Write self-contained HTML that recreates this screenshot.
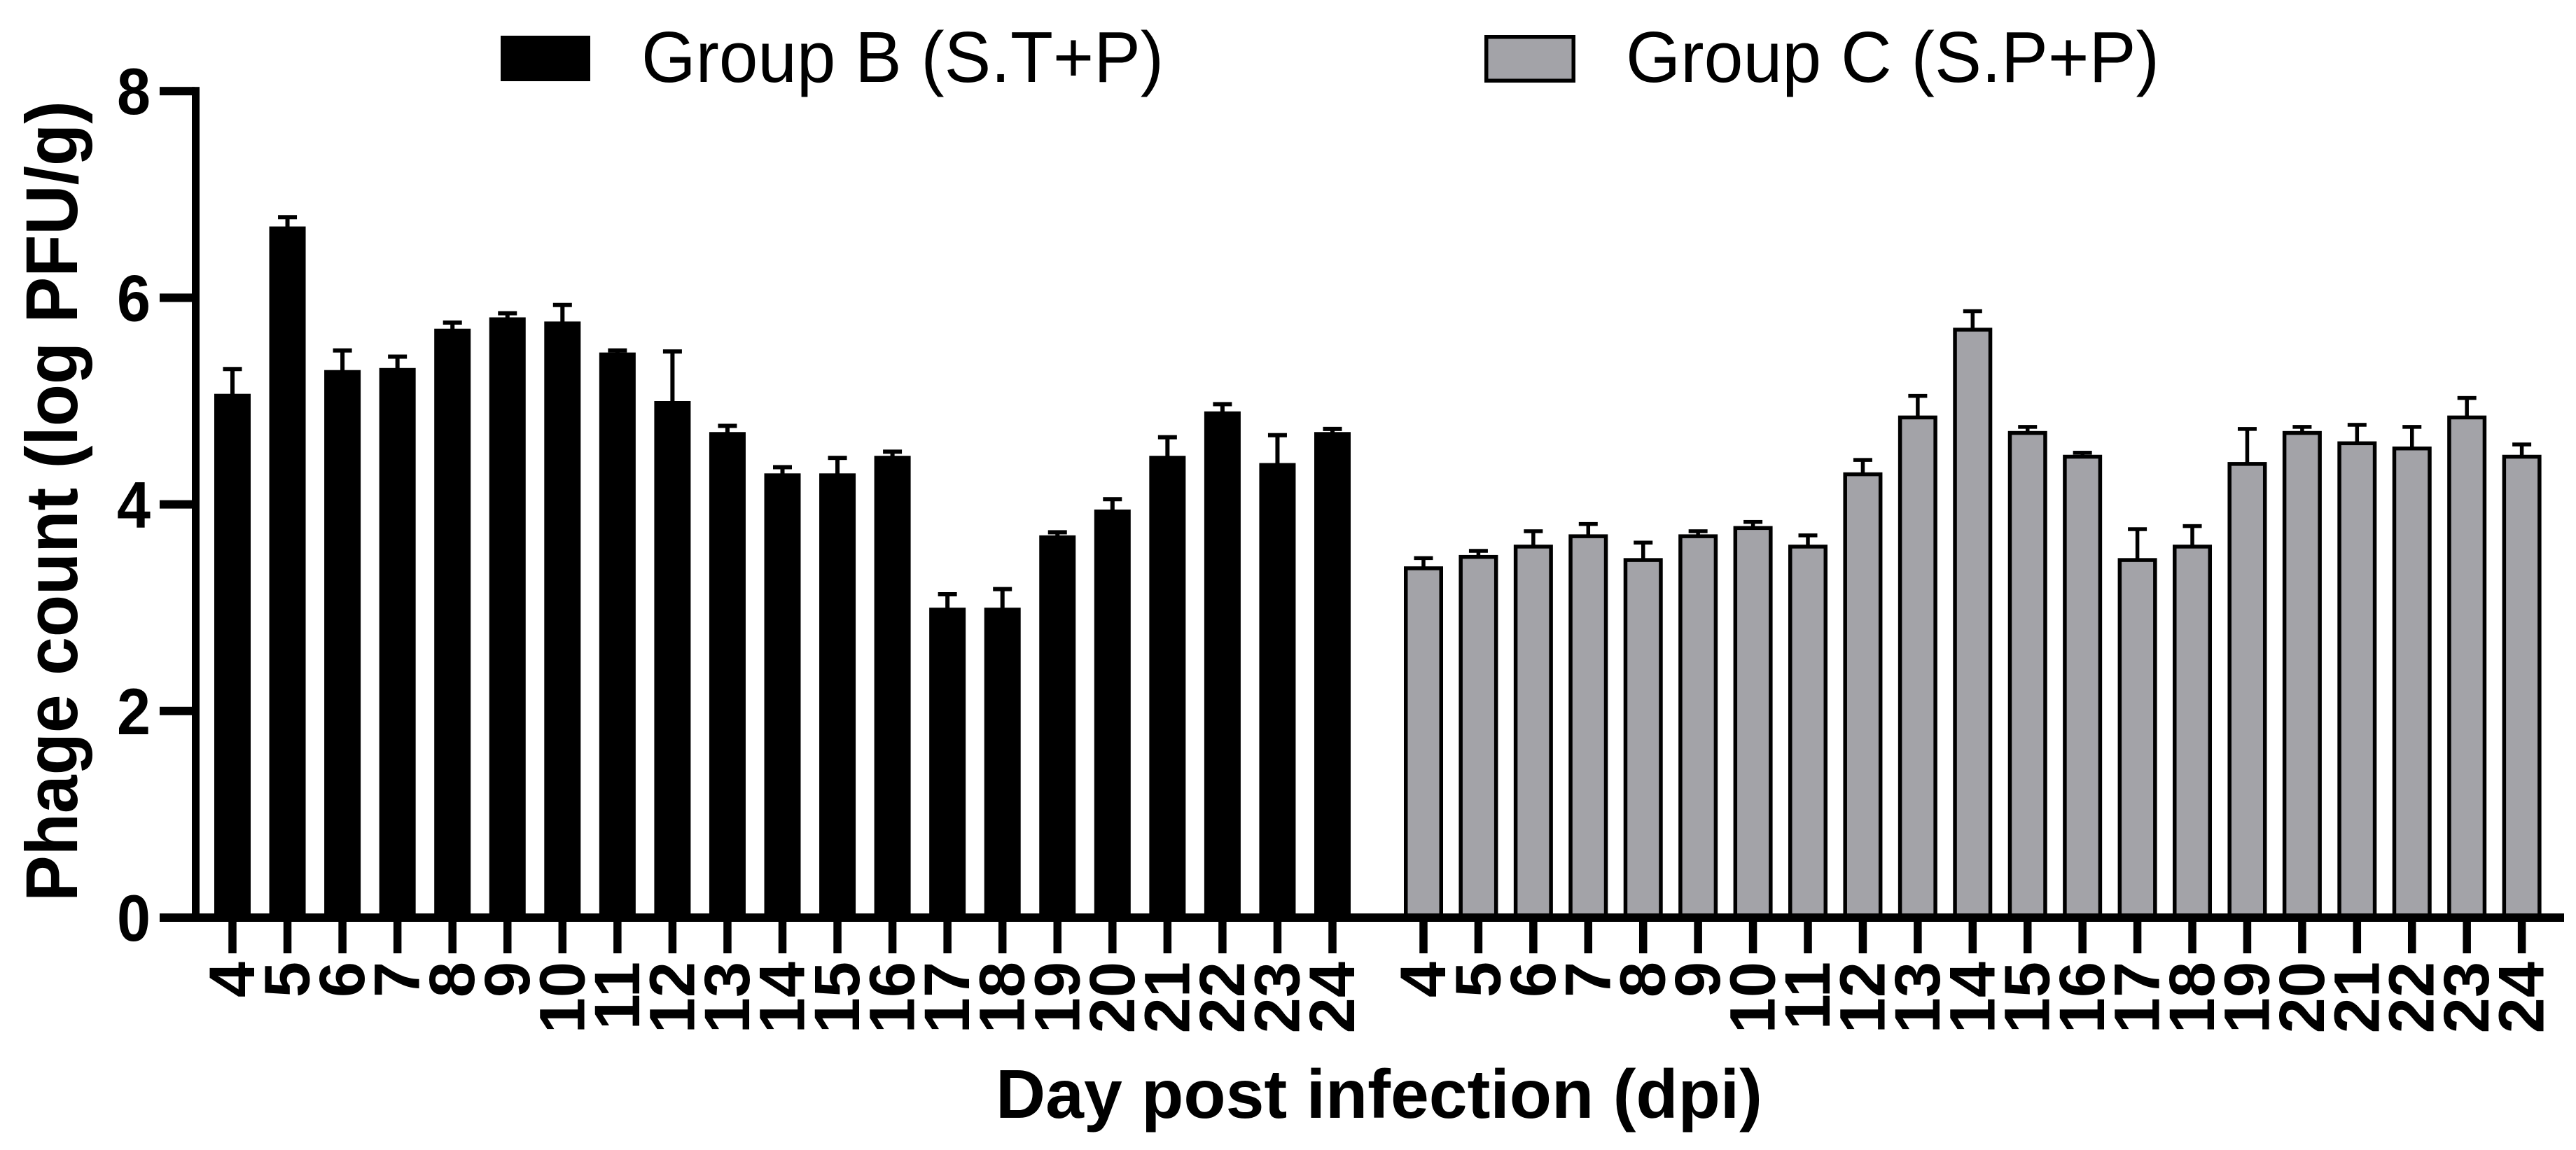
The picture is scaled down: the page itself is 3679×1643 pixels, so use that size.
<!DOCTYPE html>
<html lang="en">
<head>
<meta charset="utf-8">
<title>Phage count by day post infection</title>
<style>
html,body{margin:0;padding:0;background:#fff;width:3679px;height:1643px;overflow:hidden}
svg{display:block}
text{font-family:"Liberation Sans",Arial,sans-serif;fill:#000}
.b{font-weight:bold}
</style>
</head>
<body>
<svg id="chart" xmlns="http://www.w3.org/2000/svg" width="3679" height="1643" viewBox="0 0 3679 1643">
  <rect x="0" y="0" width="3679" height="1643" fill="#fff"/>
  <g id="bars"></g>
  <g id="axes"></g>
  <text class="b" transform="translate(110,1288) rotate(-90)" font-size="105" textLength="1144" lengthAdjust="spacingAndGlyphs">Phage count (log PFU/g)</text>
  <text class="b" x="1422" y="1597" font-size="98" textLength="1095" lengthAdjust="spacingAndGlyphs">Day post infection (dpi)</text>
  <g>
    <g>
      <rect x="715" y="51" width="128" height="65" fill="#000"/>
      <text x="916" y="117" font-size="103" textLength="746" lengthAdjust="spacingAndGlyphs">Group B (S.T+P)</text>
    </g>
    <g>
      <rect x="2122.75" y="52.75" width="124.5" height="62.5" fill="#a3a3a8" stroke="#000" stroke-width="5.5"/>
      <text x="2322" y="117" font-size="103" textLength="762" lengthAdjust="spacingAndGlyphs">Group C (S.P+P)</text>
    </g>
  </g>
</svg>
<script>
const days = ["4","5","6","7","8","9","10","11","12","13","14","15","16","17","18","19","20","21","22","23","24"];
const yTicks = [0,2,4,6,8];
const groupBMeans = [5.07,6.69,5.30,5.32,5.70,5.81,5.77,5.47,5.00,4.70,4.30,4.30,4.47,3.00,3.00,3.70,3.95,4.47,4.90,4.40,4.70];
const groupBUpper = [5.31,6.78,5.49,5.43,5.76,5.85,5.93,5.49,5.48,4.76,4.36,4.45,4.51,3.13,3.18,3.73,4.05,4.65,4.97,4.67,4.73];
const groupCMeans = [3.40,3.51,3.61,3.71,3.48,3.71,3.79,3.61,4.31,4.86,5.71,4.71,4.48,3.48,3.61,4.41,4.71,4.61,4.56,4.86,4.48];
const groupCUpper = [3.48,3.55,3.74,3.81,3.63,3.74,3.83,3.70,4.43,5.05,5.87,4.75,4.50,3.76,3.79,4.73,4.75,4.77,4.75,5.03,4.58];

const NS = "http://www.w3.org/2000/svg";
const barsLayer = document.getElementById("bars");
const axesLayer = document.getElementById("axes");
const Y0 = 1311, UNIT = 147.6;
function yScale(v){ return Y0 - v * UNIT; }
function xScaleB(i){ return 332 + i * 78.55; }
function xScaleC(i){ return 2033 + i * 78.43; }
function mk(tag, attrs, parent){
  const el = document.createElementNS(NS, tag);
  for (const k in attrs) el.setAttribute(k, attrs[k]);
  parent.appendChild(el);
  return el;
}

function drawGroup(means, upper, xScale, key, fill, barW, sw){
  means.forEach(function(v, i){
    const cx = xScale(i);
    const top = yScale(v);
    const capY = yScale(upper[i]);
    const stem = mk("rect", {x: cx - sw / 2, y: capY, width: sw, height: top - capY + 1, fill: "#000"}, barsLayer);
    
    
    const cap = mk("rect", {x: cx - 13.5, y: capY - sw / 2, width: 27, height: sw, fill: "#000"}, barsLayer);
    
    
    let bar;
    if (fill === "#000") {
      bar = mk("rect", {x: cx - barW / 2, y: top, width: barW, height: Y0 - top, fill: "#000"}, barsLayer);
    } else {
      bar = mk("rect", {x: cx - barW / 2 + 2.75, y: top + 2.75, width: barW - 5.5, height: Y0 - top, fill: fill, stroke: "#000", "stroke-width": 5.5}, barsLayer);
    }
    
    

    const tick = mk("rect", {x: cx - 5.75, y: Y0 + 6, width: 11.5, height: 45, fill: "#000"}, axesLayer);
    
    
    const label = mk("text", {
      "class": "b",
      "font-size": 92,
      "text-anchor": "end",
      transform: "translate(" + (cx + 31) + ",1374) rotate(-90)"
    }, axesLayer);
    label.textContent = days[i];
    
    
  });
}
drawGroup(groupBMeans, groupBUpper, xScaleB, "group-b", "#000", 52, 6);
drawGroup(groupCMeans, groupCUpper, xScaleC, "group-c", "#a3a3a8", 56, 5.5);

const yAxisLine = mk("rect", {x: 274, y: yScale(8) - 6, width: 11, height: Y0 - yScale(8) + 12, fill: "#000"}, axesLayer);


const xAxisLine = mk("rect", {x: 228, y: Y0 - 6, width: 3434, height: 12, fill: "#000"}, axesLayer);


yTicks.forEach(function(t){
  const yy = yScale(t);
  const tick = mk("rect", {x: 228, y: yy - 6, width: 50, height: 12, fill: "#000"}, axesLayer);
  
  
  const label = mk("text", {
    "class": "b",
    x: 167,
    y: yy + 33,
    "font-size": 94,
    textLength: 48,
    lengthAdjust: "spacingAndGlyphs"
  }, axesLayer);
  label.textContent = String(t);
  
  
});
</script>
</body>
</html>
